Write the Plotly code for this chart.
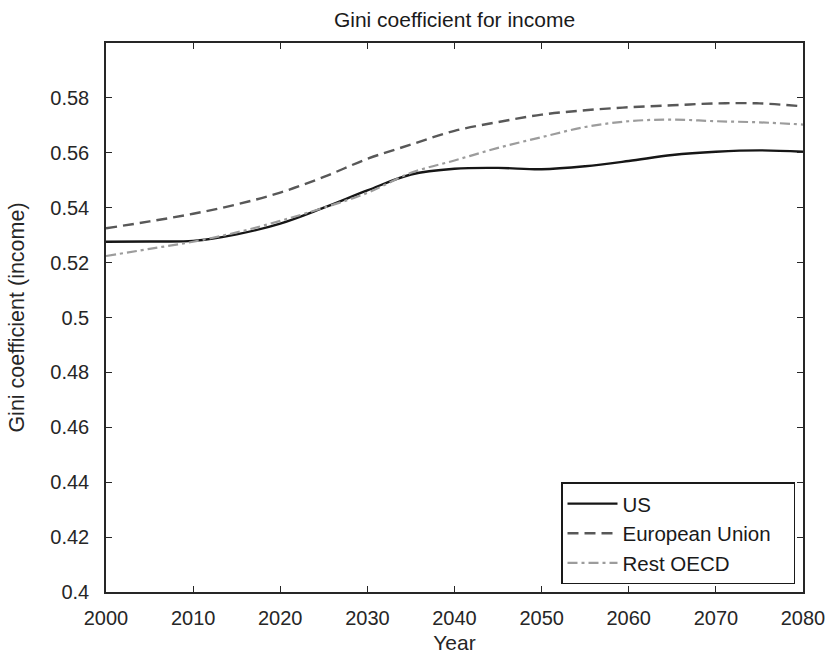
import plotly.graph_objects as go

# Projected Gini coefficient for income, by region
years = [2000, 2005, 2010, 2015, 2020, 2025, 2030, 2035, 2040, 2045,
         2050, 2055, 2060, 2065, 2070, 2075, 2080]
us = [0.5276, 0.5277, 0.5279, 0.5303, 0.5342, 0.5400, 0.5463, 0.5521, 0.5542,
      0.5545, 0.5540, 0.5551, 0.5570, 0.5592, 0.5604, 0.5609, 0.5604]
eu = [0.5325, 0.5350, 0.5378, 0.5412, 0.5455, 0.5512, 0.5578, 0.5630, 0.5680,
      0.5712, 0.5739, 0.5755, 0.5766, 0.5773, 0.5780, 0.5780, 0.5769]
rest_oecd = [0.5224, 0.5250, 0.5276, 0.5310, 0.5352, 0.5400, 0.5454, 0.5527,
             0.5572, 0.5618, 0.5657, 0.5694, 0.5715, 0.5721, 0.5715, 0.5711, 0.5703]

x_ticks = [2000, 2010, 2020, 2030, 2040, 2050, 2060, 2070, 2080]
y_ticks = [0.4, 0.42, 0.44, 0.46, 0.48, 0.5, 0.52, 0.54, 0.56, 0.58]
y_tick_text = ["0.4", "0.42", "0.44", "0.46", "0.48", "0.5", "0.52", "0.54", "0.56", "0.58"]

font = "Liberation Sans, Arial, sans-serif"
ink = "#262626"
pad = "\u00a0" * 3  # extra right-hand room inside the legend box

fig = go.Figure()
fig.add_trace(go.Scatter(x=years, y=us, name="US", mode="lines",
                         line=dict(color="#161616", width=2.4, shape="spline")))
fig.add_trace(go.Scatter(x=years, y=eu, name="European Union" + pad, mode="lines",
                         line=dict(color="#585858", width=2.4, shape="spline",
                                   dash="11px,6px")))
fig.add_trace(go.Scatter(x=years, y=rest_oecd, name="Rest OECD", mode="lines",
                         line=dict(color="#9c9c9c", width=2.2, shape="spline",
                                   dash="10px,4px,3px,4px")))

axis_common = dict(showgrid=False, zeroline=False, showline=True, linecolor=ink,
                   linewidth=1.5, mirror="ticks", ticks="inside", ticklen=6,
                   tickcolor=ink, tickwidth=1, automargin=False,
                   tickfont=dict(family=font, size=20, color=ink))

fig.update_layout(
    width=826, height=654,
    margin=dict(l=106, r=23, t=43, b=62),
    paper_bgcolor="white", plot_bgcolor="white",
    title=dict(text="Gini coefficient for income", x=0.5, xref="paper",
               y=1 - 20 / 654, yanchor="middle", automargin=False,
               font=dict(family=font, size=21, color="#1a1a1a")),
    xaxis=dict(range=[2000, 2080], tickvals=x_ticks, ticklabelstandoff=7,
               title=dict(text="Year", standoff=14,
                          font=dict(family=font, size=21, color=ink)),
               **axis_common),
    yaxis=dict(range=[0.4, 0.6], tickvals=y_ticks, ticktext=y_tick_text,
               ticklabelstandoff=11,
               title=dict(text="Gini coefficient (income)", standoff=20,
                          font=dict(family=font, size=21.5, color=ink)),
               **axis_common),
    legend=dict(x=(795 - 106) / 697, y=(591.7 - 584) / 549,
                xanchor="right", yanchor="bottom",
                bgcolor="white", bordercolor="#1a1a1a", borderwidth=1.5,
                font=dict(family=font, size=20.5, color="#1a1a1a"),
                tracegroupgap=0, itemwidth=50),
    showlegend=True,
)

fig.write_html("out.html")
